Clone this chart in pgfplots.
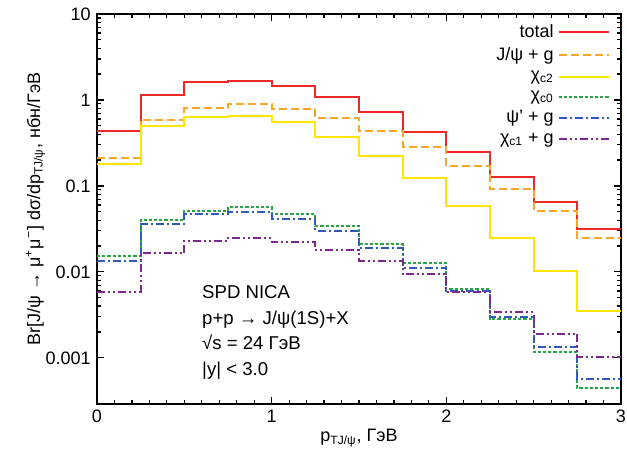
\documentclass[border=0pt]{standalone}
\usepackage{pgfplots}
\pgfplotsset{compat=1.18}
\usepackage{fontspec}
\setmainfont{Liberation Sans}
\definecolor{cred}{RGB}{240,40,40}
\definecolor{corange}{RGB}{248,165,40}
\definecolor{cyellow}{RGB}{255,230,0}
\definecolor{cgreen}{RGB}{40,165,70}
\definecolor{cblue}{RGB}{50,90,190}
\definecolor{cpurple}{RGB}{125,40,145}
\begin{document}
\fontsize{9}{11}\selectfont
\begin{tikzpicture}
\begin{axis}[
  scale only axis,
  width=262pt, height=195pt,
  ymode=log,
  xmin=0, xmax=3, ymin=2.9e-4, ymax=10,
  xtick={0,1,2,3}, xticklabels={0,1,2,3},
  minor x tick num=9,
  ytick={0.001,0.01,0.1,1,10},
  yticklabels={0.001,0.01,0.1,1,10},
  tick align=inside,
  major tick length=3.5pt, minor tick length=2pt,
  axis line style={line width=0.8pt},
  every tick/.style={black, line width=0.6pt},
  tick label style={font=\fontsize{9}{11}\selectfont},
  xlabel={p\textsubscript{TJ/ψ}, ГэВ},
  ylabel={Br[J/ψ → μ\textsuperscript{+}μ\textsuperscript{−}] dσ/dp\textsubscript{TJ/ψ}, нбн/ГэВ},
  label style={font=\fontsize{9}{11}\selectfont},
  xlabel style={yshift=3pt},
  ylabel style={yshift=-6pt},
  legend style={draw=none, fill=none, at={(0.983,0.99)}, anchor=north east,
    font=\fontsize{9}{10.7}\selectfont, row sep=-0.3pt, inner sep=1pt},
  legend cell align=right,
  legend plot pos=right,
  legend image code/.code={\draw[#1] (0pt,0pt) -- (25pt,0pt);},
  const plot,
  every axis plot/.append style={line width=1pt},
]
\addplot[cred, solid] coordinates {
(0,0.436) (0.25,1.15) (0.5,1.61) (0.75,1.66) (1.0,1.46) (1.25,1.07) (1.5,0.72)
(1.75,0.428) (2.0,0.25) (2.25,0.128) (2.5,0.0646) (2.75,0.0313) (3.0,0.0313)};
\addlegendentry{total}
\addplot[corange, dash pattern=on 4pt off 2pt] coordinates {
(0,0.213) (0.25,0.585) (0.5,0.80) (0.75,0.89) (1.0,0.786) (1.25,0.618) (1.5,0.436)
(1.75,0.286) (2.0,0.171) (2.25,0.093) (2.5,0.0507) (2.75,0.0251) (3.0,0.0251)};
\addlegendentry{J/ψ + g}
\addplot[cyellow, solid] coordinates {
(0,0.18) (0.25,0.503) (0.5,0.64) (0.75,0.65) (1.0,0.55) (1.25,0.375) (1.5,0.225)
(1.75,0.123) (2.0,0.0585) (2.25,0.0247) (2.5,0.0101) (2.75,0.00346) (3.0,0.00346)};
\addlegendentry{χ\textsubscript{c2}}
\addplot[cgreen, dash pattern=on 1.6pt off 1pt] coordinates {
(0,0.0151) (0.25,0.0403) (0.5,0.0512) (0.75,0.0565) (1.0,0.0468) (1.25,0.0343) (1.5,0.0212)
(1.75,0.0126) (2.0,0.0063) (2.25,0.00282) (2.5,0.00118) (2.75,0.000445) (3.0,0.000445)};
\addlegendentry{χ\textsubscript{c0}}
\addplot[cblue, dash pattern=on 4pt off 1.5pt on 1pt off 1.5pt] coordinates {
(0,0.0135) (0.25,0.0361) (0.5,0.0468) (0.75,0.0494) (1.0,0.041) (1.25,0.030) (1.5,0.0192)
(1.75,0.0112) (2.0,0.0060) (2.25,0.0030) (2.5,0.00133) (2.75,0.00057) (3.0,0.00057)};
\addlegendentry{ψ' + g}
\addplot[cpurple, dash pattern=on 4pt off 1.5pt on 1pt off 1.5pt on 1pt off 1.5pt] coordinates {
(0,0.0059) (0.25,0.0165) (0.5,0.0229) (0.75,0.0248) (1.0,0.0223) (1.25,0.018) (1.5,0.0135)
(1.75,0.0094) (2.0,0.0059) (2.25,0.0034) (2.5,0.0019) (2.75,0.00102) (3.0,0.00102)};
\addlegendentry{χ\textsubscript{c1} + g}
\node[anchor=north west, align=left, inner sep=0pt,
  font=\fontsize{9.3}{12.8}\selectfont] at (rel axis cs:0.2,0.305)
  {SPD NICA\\ p+p → J/ψ(1S)+X\\ √s = 24 ГэВ\\ |y| < 3.0};
\end{axis}
\pgfresetboundingbox
\path ([xshift=-48.5pt,yshift=-24pt]current axis.south west)
  rectangle ([xshift=3pt,yshift=7pt]current axis.north east);
\end{tikzpicture}
\end{document}
